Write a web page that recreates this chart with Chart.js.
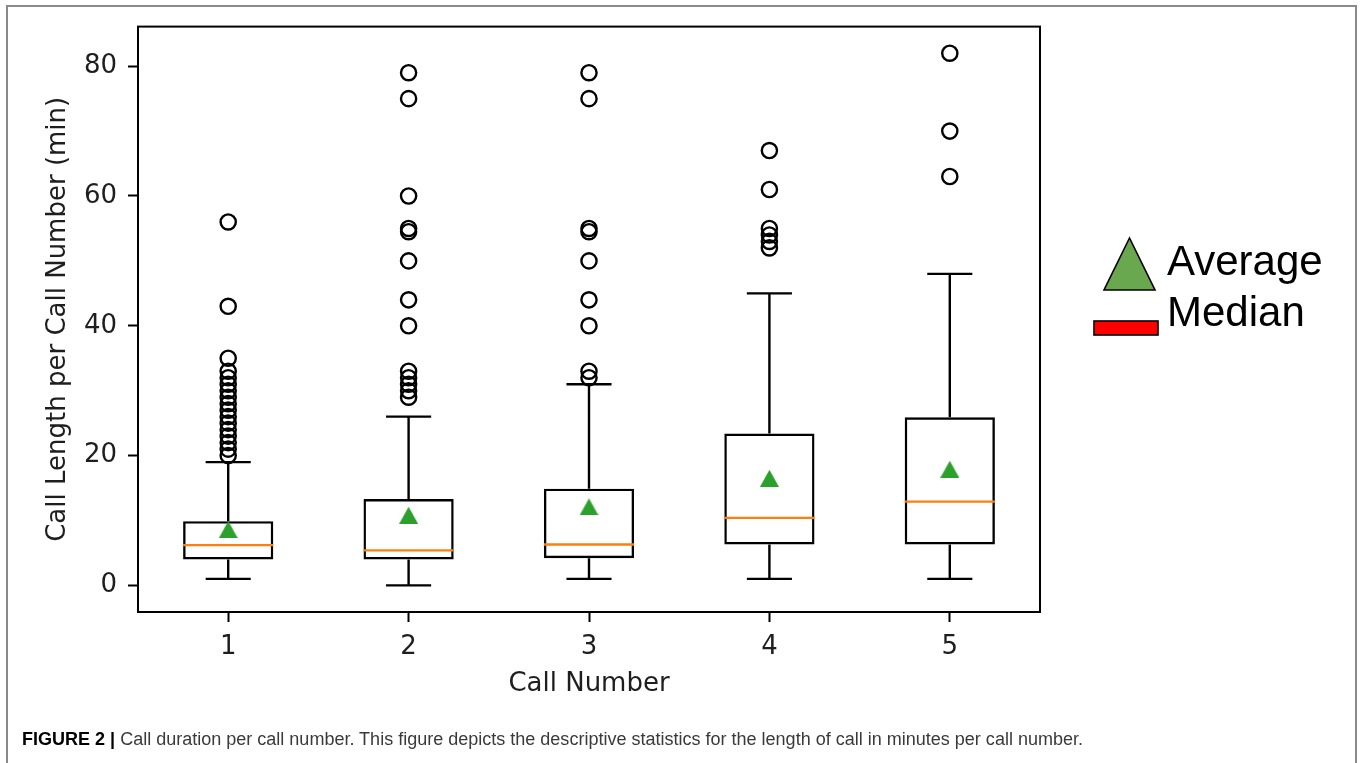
<!DOCTYPE html>
<html>
<head>
<meta charset="utf-8">
<title>Call duration per call number</title>
<script src="https://cdn.jsdelivr.net/npm/chart.js@4.4.0/dist/chart.umd.min.js"></script>
<style>
  html, body { margin: 0; padding: 0; background: #fff; width: 1363px; height: 763px; overflow: hidden; }
  #frame { position: absolute; left: 6px; top: 5px; width: 1351px; height: 800px; border: 2px solid #8a8a8a; box-sizing: border-box; }
  #wrap { position: absolute; left: 0; top: 0; width: 1363px; height: 763px; }
  #overlay { position: absolute; left: 0; top: 0; }
</style>
</head>
<body>
<div id="frame"></div>
<div id="wrap"><canvas id="chart"></canvas></div>
<svg id="overlay" width="1363" height="763" xmlns="http://www.w3.org/2000/svg">
  <!-- legend -->
  <polygon points="1129.5,238 1104,290 1155,290" fill="#6aa84f" stroke="#000" stroke-width="1.6"/>
  <rect x="1094" y="321" width="64" height="14" fill="#ff0000" stroke="#000" stroke-width="1.6"/>
  <text x="1167" y="275" font-family="'Liberation Sans', Arial, sans-serif" font-size="42" fill="#000">Average</text>
  <text x="1167" y="326" font-family="'Liberation Sans', Arial, sans-serif" font-size="42" fill="#000">Median</text>
  <!-- caption -->
  <text x="22" y="745" font-family="'Liberation Sans', Arial, sans-serif" font-size="18" fill="#3a3a3a"
        textLength="1061" lengthAdjust="spacingAndGlyphs"><tspan font-weight="bold" fill="#000">FIGURE 2 |</tspan> Call duration per call number. This figure depicts the descriptive statistics for the length of call in minutes per call number.</text>
</svg>
<script>
// Call number on the x axis
const categories = [1, 2, 3, 4, 5];

// Box statistics per call number (minutes)
const q1Values      = [4.0, 4.0, 4.2, 6.3, 6.3];
const q3Values      = [9.9, 13.3, 14.9, 23.4, 25.9];
const medianValues  = [6.2, 5.4, 6.3, 10.4, 12.9];
const meanValues    = [8.6, 10.8, 12.1, 16.5, 17.9];
const whiskerLow    = [1, 0, 1, 1, 1];
const whiskerHigh   = [19, 26, 31, 45, 48];

// Outlying calls per call number (minutes)
const outliers1 = [20, 21, 22, 23, 24, 25, 26, 27, 28, 29, 30, 31, 32, 33, 35, 43, 56];
const outliers2 = [29, 30, 31, 32, 33, 40, 44, 50, 54.5, 55, 60, 75, 79];
const outliers3 = [32, 33, 40, 44, 50, 54.5, 55, 75, 79];
const outliers4 = [52, 53, 54, 55, 61, 67];
const outliers5 = [63, 70, 82];
const outlierGroups = [outliers1, outliers2, outliers3, outliers4, outliers5];

// Axis ticks
const yTicks = [0, 20, 40, 60, 80];
const yMin = -4.1, yMax = 86.1;

const BOX_HALF = 0.25;   // half box width in x units
const CAP_HALF = 0.125;  // half whisker cap width in x units
const LINE_W = 2.4;

// whisker stems and caps as broken line segments
const whiskerPoints = [];
categories.forEach((c, i) => {
  whiskerPoints.push({x: c, y: q3Values[i]}, {x: c, y: whiskerHigh[i]}, {x: c, y: null});
  whiskerPoints.push({x: c - CAP_HALF, y: whiskerHigh[i]}, {x: c + CAP_HALF, y: whiskerHigh[i]}, {x: c, y: null});
  whiskerPoints.push({x: c, y: q1Values[i]}, {x: c, y: whiskerLow[i]}, {x: c, y: null});
  whiskerPoints.push({x: c - CAP_HALF, y: whiskerLow[i]}, {x: c + CAP_HALF, y: whiskerLow[i]}, {x: c, y: null});
});

// median bars across each box
const medianPoints = [];
categories.forEach((c, i) => {
  medianPoints.push({x: c - BOX_HALF, y: medianValues[i]}, {x: c + BOX_HALF, y: medianValues[i]}, {x: c, y: null});
});

const outlierPoints = [];
categories.forEach((c, i) => outlierGroups[i].forEach(v => outlierPoints.push({x: c, y: v})));

const meanPoints = categories.map((c, i) => ({x: c, y: meanValues[i]}));
const boxPoints = categories.map((c, i) => ({x: c, y: [q1Values[i], q3Values[i]]}));

// triangle marker centred on its bounding box
function makeTriangle(w, h, color) {
  const cv = document.createElement('canvas');
  cv.width = w; cv.height = h;
  const g = cv.getContext('2d');
  g.fillStyle = color;
  g.beginPath();
  g.moveTo(w / 2, 0);
  g.lineTo(w, h);
  g.lineTo(0, h);
  g.closePath();
  g.fill();
  return cv;
}
const triangleMarker = makeTriangle(19, 17, '#2ca02c');

// black frame round the plotting area
const plotFrame = {
  id: 'plotFrame',
  afterDatasetsDraw(chart) {
    const {ctx, chartArea: a} = chart;
    ctx.save();
    ctx.strokeStyle = '#000';
    ctx.lineWidth = 2;
    ctx.strokeRect(a.left, a.top, a.right - a.left, a.bottom - a.top);
    ctx.restore();
  }
};

const tickFont = {family: "'DejaVu Sans', sans-serif", size: 26};
const textColor = '#1e1e1e';

new Chart(document.getElementById('chart'), {
  type: 'bar',
  data: {
    datasets: [
      {
        type: 'scatter', label: 'Mean', data: meanPoints,
        pointStyle: triangleMarker, pointRadius: 9, order: 1
      },
      {
        type: 'line', label: 'Median', data: medianPoints,
        borderColor: '#ff7f0e', borderWidth: LINE_W, pointRadius: 0, spanGaps: false, tension: 0, fill: false, order: 2
      },
      {
        type: 'scatter', label: 'Outliers', data: outlierPoints,
        pointStyle: 'circle', pointRadius: 7.6, pointBorderWidth: 2.4,
        pointBorderColor: '#000', pointBackgroundColor: 'rgba(0,0,0,0)', order: 3
      },
      {
        type: 'line', label: 'Whiskers', data: whiskerPoints,
        borderColor: '#000', borderWidth: LINE_W, pointRadius: 0, spanGaps: false, tension: 0, fill: false, order: 4
      },
      {
        type: 'bar', label: 'Interquartile range', data: boxPoints,
        backgroundColor: 'rgba(0,0,0,0)', borderColor: '#000', borderWidth: LINE_W,
        borderSkipped: false, categoryPercentage: 1, barPercentage: 0.5, order: 5
      }
    ]
  },
  options: {
    responsive: true,
    maintainAspectRatio: false,
    animation: false,
    events: [],
    layout: {padding: {left: 43, top: 23, right: 323, bottom: 63}},
    plugins: {legend: {display: false}, tooltip: {enabled: false}},
    scales: {
      x: {
        type: 'linear', min: 0.5, max: 5.5, offset: false,
        afterBuildTicks: s => { s.ticks = categories.map(v => ({value: v})); },
        afterFit: s => { s.height = 88; },
        ticks: {font: tickFont, color: textColor, padding: 10, maxRotation: 0, minRotation: 0},
        grid: {display: true, offset: false, drawOnChartArea: false, drawTicks: true, tickLength: 10, tickColor: '#000', tickWidth: 2},
        border: {display: false},
        title: {display: true, text: 'Call Number', font: tickFont, color: textColor, padding: 0}
      },
      y: {
        type: 'linear', min: yMin, max: yMax,
        afterBuildTicks: s => { s.ticks = yTicks.map(v => ({value: v})); },
        afterFit: s => { s.width = 95; },
        ticks: {font: tickFont, color: textColor, padding: 11},
        grid: {display: true, drawOnChartArea: false, drawTicks: true, tickLength: 10, tickColor: '#000', tickWidth: 2},
        border: {display: false},
        title: {display: true, text: 'Call Length per Call Number (min)', font: tickFont, color: textColor, padding: 0}
      }
    }
  },
  plugins: [plotFrame]
});
</script>
</body>
</html>
